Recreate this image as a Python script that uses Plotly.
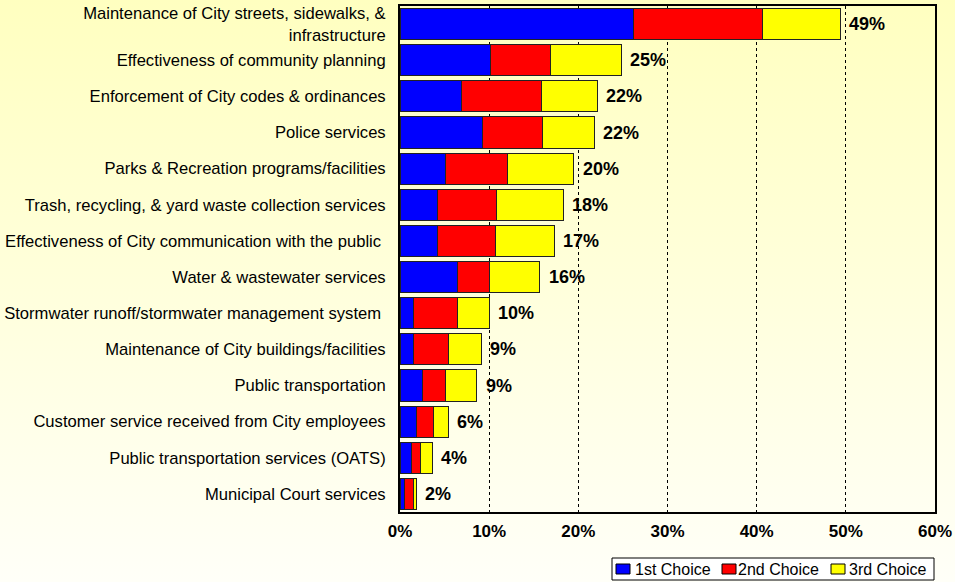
import base64
import plotly.graph_objects as go

categories = [
    "Maintenance of City streets, sidewalks, &<br>infrastructure",
    "Effectiveness of community planning",
    "Enforcement of City codes & ordinances",
    "Police services",
    "Parks & Recreation programs/facilities",
    "Trash, recycling, & yard waste collection services",
    "Effectiveness of City communication with the public ",
    "Water & wastewater services",
    "Stormwater runoff/stormwater management system ",
    "Maintenance of City buildings/facilities",
    "Public transportation",
    "Customer service received from City employees",
    "Public transportation services (OATS)",
    "Municipal Court services",
]
first_choice = [26.2, 10.1, 6.9, 9.2, 5.1, 4.2, 4.2, 6.4, 1.5, 1.5, 2.5, 1.9, 1.3, 0.5]
second_choice = [14.5, 6.8, 9.0, 6.8, 6.9, 6.6, 6.5, 3.6, 4.9, 3.9, 2.6, 1.9, 1.0, 1.0]
third_choice = [8.7, 7.9, 6.2, 5.8, 7.5, 7.5, 6.6, 5.7, 3.6, 3.7, 3.5, 1.6, 1.3, 0.3]
total_labels = ["49%", "25%", "22%", "22%", "20%", "18%", "17%", "16%", "10%", "9%", "9%", "6%", "4%", "2%"]
series_names = ["1st Choice", "2nd Choice", "3rd Choice"]
x_ticks = [0, 10, 20, 30, 40, 50, 60]
x_tick_labels = ["0%", "10%", "20%", "30%", "40%", "50%", "60%"]

colors = ["#0000FF", "#FF0000", "#FFFF00"]
series_values = [first_choice, second_choice, third_choice]

FONT = "Arial, 'Liberation Sans', sans-serif"

W, H = 955, 582
ml, mr, mt, mb = 400, 20, 6, 70
pw, ph = W - ml - mr, H - mt - mb


def px_x(px):
    return (px - ml) / pw


def px_y(py):
    return (H - mb - py) / ph


fig = go.Figure()
for name, vals, color in zip(series_names, series_values, colors):
    fig.add_trace(go.Bar(
        y=categories, x=vals, name=name, orientation="h",
        marker=dict(color=color, line=dict(color="#222222", width=1)),
        hoverinfo="x+name", showlegend=False,
    ))

totals = [a + b + c for a, b, c in zip(first_choice, second_choice, third_choice)]
for cat, tot, lab in zip(categories, totals, total_labels):
    fig.add_annotation(x=tot, y=cat, text=lab, showarrow=False, xanchor="left",
                       xshift=7, font=dict(family=FONT, size=18, color="black", weight="bold"))

# Legend box (drawn manually for a compact Excel-like legend)
fig.add_shape(type="rect", xref="paper", yref="paper",
              x0=px_x(612), x1=px_x(934), y0=px_y(580), y1=px_y(558),
              line=dict(color="black", width=1), fillcolor="white", layer="above")
legend_sq = [616, 722, 831]
legend_tx = [634, 737, 848]
for name, color, sx, tx in zip(series_names, colors, legend_sq, legend_tx):
    fig.add_shape(type="rect", xref="paper", yref="paper",
                  x0=px_x(sx), x1=px_x(sx + 14), y0=px_y(574), y1=px_y(564),
                  line=dict(color="black", width=1), fillcolor=color, layer="above")
    fig.add_annotation(xref="paper", yref="paper", x=px_x(tx - 1), y=px_y(569.5),
                       text=name, showarrow=False, xanchor="left", yanchor="middle",
                       font=dict(family=FONT, size=16, color="black"))

svg = ('<svg xmlns="http://www.w3.org/2000/svg" width="100" height="100" preserveAspectRatio="none">'
       '<defs><linearGradient id="g" x1="0" y1="0" x2="0" y2="1">'
       '<stop offset="0" stop-color="#FFFFC0"/><stop offset="1" stop-color="#FFFFF8"/>'
       '</linearGradient></defs><rect width="100" height="100" fill="url(#g)"/></svg>')
uri = "data:image/svg+xml;base64," + base64.b64encode(svg.encode()).decode()

fig.add_layout_image(dict(
    source=uri, xref="paper", yref="paper",
    x=-ml / pw, y=1 + mt / ph, sizex=W / pw, sizey=H / ph,
    xanchor="left", yanchor="top", sizing="stretch", layer="below",
))

fig.update_layout(
    width=W, height=H,
    margin=dict(l=ml, r=mr, t=mt, b=mb, autoexpand=False),
    barmode="stack", bargap=0.14,
    paper_bgcolor="#FFFFE8", plot_bgcolor="white",
    font=dict(family=FONT, size=16, color="black"),
    showlegend=False,
    xaxis=dict(range=[0, 60], tickvals=x_ticks, ticktext=x_tick_labels,
               showgrid=True, gridcolor="black", griddash="dot", gridwidth=1,
               showline=True, linecolor="black", linewidth=2, mirror=True,
               zeroline=False, ticks="", ticklabelstandoff=3, automargin=False,
               tickfont=dict(size=17, weight="bold")),
    yaxis=dict(autorange="reversed", showline=True, linecolor="black", linewidth=2,
               mirror=True, ticks="", ticklabelstandoff=9, tickfont=dict(size=16.6),
               showgrid=False, automargin=False),
)

fig.write_html("out.html", config={"displayModeBar": False},
               post_script="document.body.style.margin='0';document.body.style.overflow='hidden';")
